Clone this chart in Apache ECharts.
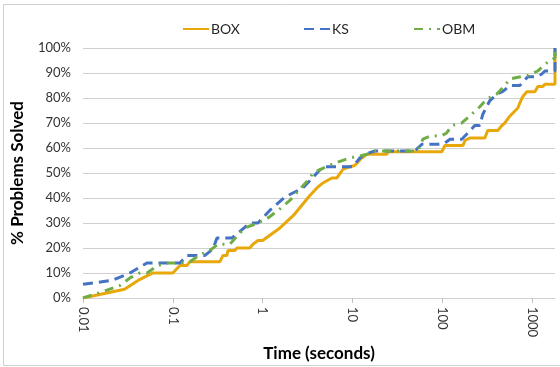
<!DOCTYPE html>
<html>
<head>
<meta charset="utf-8">
<script src="https://cdn.jsdelivr.net/npm/echarts@6/dist/echarts.min.js"></script>
<style>
  html, body { margin: 0; padding: 0; background: #fff; }
  #chart { width: 560px; height: 367px; }
</style>
</head>
<body>
<div id="chart"></div>
<script>
const seriesNames = ["BOX", "KS", "OBM"];

const boxTimes = [0.01, 0.029, 0.041, 0.06, 0.1, 0.12, 0.144, 0.155, 0.335, 0.362, 0.4, 0.411, 0.49, 0.518, 0.72, 0.78, 0.887, 1, 1.56, 2.2, 3.36, 4.02, 4.69, 5.9, 6.71, 7.83, 9.37, 10.6, 12.7, 14.5, 24.2, 24.8, 99, 107, 170, 179, 203, 298, 321, 416, 461, 498, 565, 694, 731, 789, 874, 1074, 1159, 1318, 1387, 1800, 1800];
const boxSolved = [0, 3.5, 7, 10, 10, 13, 13, 14.5, 14.5, 17, 17, 19, 19, 20, 20, 21.5, 23, 23, 28, 33, 41, 44, 46, 48, 48, 51.4, 52.5, 53, 56, 57.5, 57.5, 58.5, 58.5, 61, 61, 63, 64, 64, 67, 67, 69, 70, 72.7, 76, 78, 80.6, 82.5, 82.5, 84.6, 84.6, 85.5, 85.5, 100];

const ksTimes = [0.01, 0.021, 0.0333, 0.0515, 0.12, 0.144, 0.228, 0.28, 0.31, 0.455, 0.559, 0.722, 0.887, 1.2, 1.77, 2.81, 4.69, 10.1, 12.1, 13.8, 17.8, 49.5, 53.5, 59.3, 89.3, 107, 122, 165, 193, 230, 262, 283, 339, 416, 473, 565, 731, 897, 1130, 1285, 1387, 1800, 1800];
const ksSolved = [5.5, 7, 10, 14, 14, 17, 17, 19.6, 24, 24, 26.6, 30, 30, 35, 40.4, 44, 52.5, 52.5, 56, 57.5, 58.8, 58.8, 60, 61.5, 61.5, 62, 63.5, 63.5, 66, 69, 69, 73.5, 79, 81.7, 82.6, 85, 85, 88.5, 88.5, 89.6, 90.8, 90.8, 100];

const obmTimes = [0.01, 0.0163, 0.0258, 0.0333, 0.0431, 0.0515, 0.0684, 0.0884, 0.12, 0.155, 0.186, 0.273, 0.318, 0.433, 0.559, 0.635, 0.887, 1.146, 1.48, 2.01, 3.36, 3.63, 6.06, 9.37, 12.7, 14.5, 17.8, 53.5, 60.8, 72.8, 99, 112, 128, 165, 213, 262, 313, 405, 498, 565, 676, 897, 1159, 1460, 1800, 1800];
const obmSolved = [0, 2.4, 5, 8, 10, 10, 13, 14, 14, 14.5, 16.5, 19.6, 21.5, 21.5, 26, 28, 30, 32, 35, 39, 48, 50, 53.7, 56, 57, 57.5, 58.8, 58.8, 63.5, 64.7, 65, 66, 69, 70, 73.5, 76.5, 79.6, 81.6, 85, 87.6, 88.2, 89, 90.8, 94, 96, 100];

function zip(xs, ys) {
  return xs.map((x, i) => [x, ys[i]]);
}

const FONT = "Lato";
const legendLeft = [182, 303, 413];
const chart = echarts.init(document.getElementById("chart"));

chart.setOption({
  animation: false,
  textStyle: { fontFamily: FONT },
  graphic: [
    {
      type: "rect",
      shape: { x: 3.5, y: 4.5, width: 600, height: 361 },
      style: { fill: "none", stroke: "#d0d0d0", lineWidth: 1 },
      silent: true,
    },
  ],
  legend: seriesNames.map((name, i) => ({
    top: 22,
    left: legendLeft[i],
    padding: 0,
    itemWidth: 26,
    itemHeight: 14,
    itemStyle: { opacity: 0 },
    textStyle: { fontSize: 14, color: "#262626", fontFamily: FONT, padding: [0, 0, 0, -3] },
    data: [name],
  })),
  grid: { left: 83, right: 5, top: 48, bottom: 62 },
  xAxis: {
    type: "log",
    logBase: 10,
    min: 0.01,
    max: 1800,
    name: "Time (seconds)",
    nameLocation: "middle",
    nameGap: 45,
    nameTextStyle: { fontSize: 17, fontWeight: "bold", color: "#000", fontFamily: FONT },
    axisLine: { lineStyle: { color: "#d0d0d0", width: 1 } },
    axisTick: { show: true, length: 5, lineStyle: { color: "#c0c0c0" } },
    splitLine: { show: false },
    axisLabel: {
      rotate: -90,
      margin: 9,
      fontSize: 13,
      color: "#333",
      showMaxLabel: false,
      formatter: (v) => String(Number(v.toPrecision(6))),
    },
  },
  yAxis: {
    type: "value",
    min: 0,
    max: 100,
    interval: 10,
    name: "% Problems Solved",
    nameLocation: "middle",
    nameGap: 57,
    nameTextStyle: { fontSize: 17, fontWeight: "bold", color: "#000", fontFamily: FONT },
    axisLine: { show: false },
    axisTick: { show: false },
    splitLine: { lineStyle: { color: "#d0d0d0", width: 1 } },
    axisLabel: { fontSize: 13, color: "#333", margin: 12, formatter: (v) => v + "%" },
  },
  series: [
    {
      name: "BOX",
      type: "line",
      data: zip(boxTimes, boxSolved),
      symbol: "none",
      z: 3,
      lineStyle: { color: "#E8A80C", width: 3 },
      itemStyle: { color: "#E8A80C" },
    },
    {
      name: "KS",
      type: "line",
      data: zip(ksTimes, ksSolved),
      symbol: "none",
      z: 4,
      lineStyle: { color: "#4472C4", width: 3, type: [10, 6] },
      itemStyle: { color: "#4472C4" },
    },
    {
      name: "OBM",
      type: "line",
      data: zip(obmTimes, obmSolved),
      symbol: "none",
      z: 5,
      lineStyle: { color: "#70AD47", width: 3, type: [9, 6, 2, 6] },
      itemStyle: { color: "#70AD47" },
    },
  ],
});
</script>
</body>
</html>
